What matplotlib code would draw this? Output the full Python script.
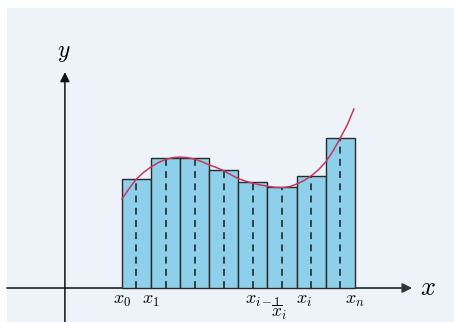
import matplotlib.pyplot as plt
from matplotlib.patches import Rectangle

plt.rcParams['mathtext.fontset'] = 'cm'

# bar heights (midpoint Riemann sum), one per subinterval
bar_heights = [3.75, 4.47, 4.47, 4.05, 3.64, 3.47, 3.85, 5.15]
# curve at quarter steps
curve_x = [0, 0.25, 0.5, 0.75, 1, 1.25, 1.5, 1.75, 2, 2.25, 2.5, 2.75, 3, 3.25,
           3.5, 3.75, 4, 4.25, 4.5, 4.75, 5, 5.25, 5.5, 5.75, 6, 6.25, 6.5,
           6.75, 7, 7.25, 7.5, 7.75, 7.97]
curve_y = [3.06, 3.42, 3.75, 3.98, 4.16, 4.31, 4.42, 4.48, 4.50, 4.48, 4.43,
           4.34, 4.23, 4.14, 4.03, 3.89, 3.76, 3.67, 3.60, 3.54, 3.50, 3.46,
           3.45, 3.48, 3.57, 3.69, 3.85, 4.06, 4.33, 4.70, 5.15, 5.62, 6.15]
tick_pos = [0, 1, 5, 6, 8]
tick_text = [r'$x_0$', r'$x_1$', r'$x_{i-1}$', r'$x_i$', r'$x_n$']
tick_nudge = [0, 0, -0.16, 0.25, 0]
bar_label = r'$\overline{x}_i$'
bar_label_pos = 5.5

fig = plt.figure(figsize=(4.54, 3.22), dpi=100)
ax = fig.add_axes([0, 0, 1, 1])
ax.set_xlim(-4.19, 11.41)
ax.set_ylim(-1.168, 9.897)
ax.axis('off')

ax.add_patch(Rectangle((0.0154, 0), 1, 0.975, transform=ax.transAxes,
                       facecolor='#eef3fa', edgecolor='none', zorder=0))

n = len(bar_heights)
lefts = list(range(n))
ax.bar(lefts, bar_heights, width=1, align='edge', color='#8ecfe9',
       edgecolor='#2a2a2a', linewidth=1.0, zorder=2)
for i, h in enumerate(bar_heights):
    ax.plot([i + 0.5, i + 0.5], [0, h], color='#1a1a1a', lw=1.1,
            dashes=(4.5, 3.5), zorder=3)

ax.plot(curve_x, curve_y, color='#c8365e', lw=1.1, zorder=4)

# axes with arrows
ax.annotate('', xy=(9.97, 0), xytext=(-3.95, 0),
            arrowprops=dict(arrowstyle='-|>', color='#333333', lw=1.3,
                            mutation_scale=14, shrinkA=0, shrinkB=0), zorder=1)
ax.annotate('', xy=(-1.96, 7.42), xytext=(-1.96, -1.2),
            arrowprops=dict(arrowstyle='-|>', color='#111111', lw=1.1,
                            mutation_scale=14, shrinkA=0, shrinkB=0), zorder=1)
ax.text(10.52, 0, r'$x$', fontsize=19, ha='center', va='center')
ax.text(-1.99, 8.11, r'$y$', fontsize=17, ha='center', va='center')

for p, t, d in zip(tick_pos, tick_text, tick_nudge):
    ax.text(p + d, -0.1, t, fontsize=13, ha='center', va='top')
ax.text(bar_label_pos - 0.1, -0.5, bar_label, fontsize=12.5, ha='center', va='top')

fig.savefig('out.png', dpi=100)
